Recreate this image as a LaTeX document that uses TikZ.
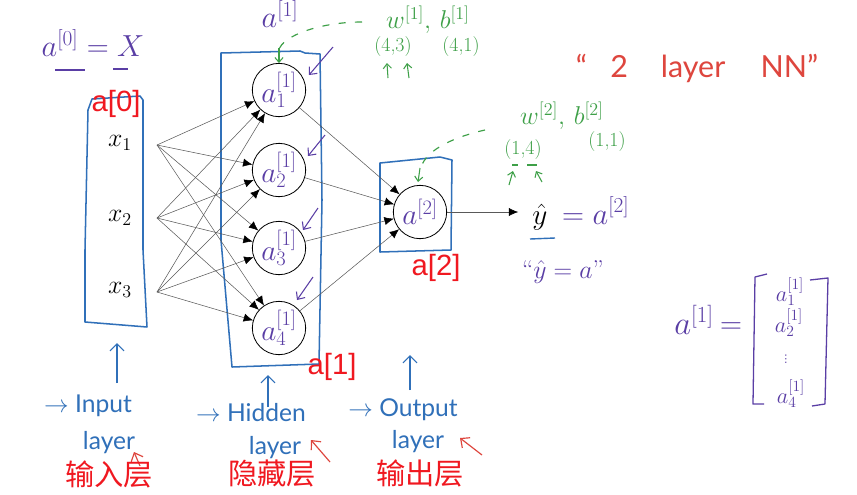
\RequirePackage{fix-cm}
\documentclass[tikz,border=0pt]{standalone}
\usepackage{fontspec}
\newfontfamily\hand{Lato}
\newfontfamily\redf{Liberation Sans}
\newfontfamily\cjk{Noto Sans CJK SC}
\newfontfamily\dejavu{DejaVu Sans}
\usetikzlibrary{arrows.meta}
\definecolor{hblue}{RGB}{48,112,185}
\definecolor{hpurple}{RGB}{90,62,165}
\definecolor{hgreen}{RGB}{62,160,72}
\definecolor{hred}{RGB}{240,24,32}
\definecolor{hredb}{RGB}{222,70,62}
\tikzset{
  hbox/.style={draw=hblue,line width=1.3pt,line join=round},
  neuron/.style={circle,draw=black,line width=0.7pt,minimum size=1.6cm,inner sep=0pt,
    text=hpurple,font=\fontsize{25}{29}\selectfont},
  conn/.style={draw=black!65,line width=0.45pt,-{Latex[length=8pt,width=7pt,color=black]}},
  xlbl/.style={font=\fontsize{22}{26}\selectfont,inner sep=0pt},
  redlbl/.style={text=hred,font=\redf\fontsize{25}{28}\selectfont,inner sep=0pt},
  cjklbl/.style={text=hred,font=\cjk\fontsize{25}{28}\selectfont,inner sep=0pt},
  bluetxt/.style={text=hblue,font=\hand\fontsize{21}{24}\selectfont,inner sep=0pt},
  purp/.style={text=hpurple,inner sep=0pt},
  grn/.style={text=hgreen,inner sep=0pt},
  parrow/.style={draw=hpurple,line width=0.9pt,-{Straight Barb[length=5pt,width=9pt]}},
  garrow/.style={draw=hgreen,line width=0.9pt,-{Straight Barb[length=4pt,width=7pt]}},
  barrow/.style={draw=hblue,line width=1pt,-{Straight Barb[length=6pt,width=12pt]}},
  rarrow/.style={draw=hredb,line width=1pt,-{Straight Barb[length=6pt,width=11pt]}},
  gdash/.style={draw=hgreen,line width=1pt,dash pattern=on 6pt off 8pt},
}
\begin{document}
\begin{tikzpicture}[x=0.03cm,y=-0.03cm]
\useasboundingbox[fill=white] (0,0) rectangle (857,494);

% hand-drawn layer boxes
\draw[hbox] (92,99) -- (140,96) -- (143,100) -- (143,250) -- (147,327) -- (85,322) -- (85,250) -- (88,110) -- cycle;
\draw[hbox] (221,53) -- (300,51) -- (305,53) -- (320,54) -- (322,200) -- (319,364) -- (232,367) -- (221,240) -- cycle;
\draw[hbox] (380,163) -- (440,157) -- (452,160) -- (451,250) -- (380,252) -- cycle;

% inputs
\node[xlbl] (x1) at (120,143) {$x_1$};
\node[xlbl] (x2) at (120,218) {$x_2$};
\node[xlbl] (x3) at (120,290) {$x_3$};
\coordinate (i1) at (157,145);
\coordinate (i2) at (157,218);
\coordinate (i3) at (157,292);

% neurons
\node[neuron] (h1) at (279,90) {$a^{[1]}_1$};
\node[neuron] (h2) at (279,170) {$a^{[1]}_2$};
\node[neuron] (h3) at (279,248) {$a^{[1]}_3$};
\node[neuron] (h4) at (279,328) {$a^{[1]}_4$};
\node[neuron] (o) at (420,212) {$a^{[2]}$};

\foreach \i in {1,2,3} \foreach \h in {1,2,3,4} \draw[conn] (i\i) -- (h\h);
\foreach \h in {1,2,3,4} \draw[conn] (h\h) -- (o);

% output
\node[xlbl,font=\fontsize{25}{28}\selectfont,anchor=base] (yh) at (540,224) {$\hat{y}$};
\node[purp,font=\fontsize{26}{30}\selectfont,anchor=base west] (eq) at (562,224) {$=a^{[2]}$};
\draw[conn,shorten >=12pt] (o) -- (o -| yh.west);
\draw[hblue,line width=1.2pt] (530,239) -- (555,238);
\node[purp,font=\fontsize{22}{26}\selectfont] (yq) at (563,272) {``$\hat{y}=a$''};

% red layer labels
\node[redlbl] (l0) at (116,104) {a[0]};
\node[redlbl] (l1) at (332,367) {a[1]};
\node[redlbl] (l2) at (436,268) {a[2]};

% a^[0] = X
\node[purp,font=\fontsize{26}{30}\selectfont] (a0) at (93,43) {$a^{[0]} = X$};
\draw[hpurple,line width=1.1pt] (55,70) -- (85,70);
\draw[hpurple,line width=1.1pt] (113,69) -- (128,69);

% top a^[1] and W1,b1
\node[purp,font=\fontsize{26}{30}\selectfont] (a1top) at (280,14) {$a^{[1]}$};
\node[grn,font=\fontsize{22}{26}\selectfont] (wb1) at (428,20) {$w^{[1]},\, b^{[1]}$};
\node[grn,font=\fontsize{17}{20}\selectfont] (d43) at (393,47) {(4,3)};
\node[grn,font=\fontsize{17}{20}\selectfont] (d41) at (461,47) {(4,1)};
\draw[garrow] (388,78) -- (387,63);
\draw[garrow] (409,78) -- (407,63);
\draw[gdash] (362,22) .. controls (320,22) and (282,36) .. (279,50);
\draw[garrow] (279,48) -- (279,63);

% W2,b2
\node[grn,font=\fontsize{22}{26}\selectfont] (wb2) at (562,116) {$w^{[2]},\, b^{[2]}$};
\node[grn,font=\fontsize{17}{20}\selectfont] (d14) at (523,150) {(1,4)};
\node[grn,font=\fontsize{17}{20}\selectfont] (d11) at (607,142) {(1,1)};
\draw[hgreen,line width=1pt] (512,165) -- (518,165) (527,165) -- (537,165);
\draw[garrow] (509,185) -- (513,171);
\draw[garrow] (542,182) -- (536,171);
\draw[gdash] (485,130) .. controls (450,138) and (422,152) .. (420,172);
\draw[garrow] (420,168) -- (418,182);

% purple arrows at hidden units
\draw[parrow] (333,47) -- (309,75);
\draw[parrow] (325,135) -- (308,156);
\draw[parrow] (318,208) -- (303,230);
\draw[parrow] (313,277) -- (297,300);

% "2 layer NN"
\node[text=hredb,font=\hand\fontsize{26}{30}\selectfont,inner sep=0pt] (nn) at (697,68)
  {\char"201C\hspace{20pt}2\hspace{28pt}layer\hspace{30pt}NN\char"201D};

% a^[1] vector
\node[purp,font=\fontsize{28}{32}\selectfont] (av) at (694,320) {$a^{[1]}$};
\node[purp,font=\fontsize{26}{30}\selectfont] (aeq) at (731,328) {$=$};
\draw[hpurple,line width=1.1pt,line join=round] (767,274) -- (755,277) -- (753,404) -- (764,404);
\draw[hpurple,line width=1.1pt,line join=round] (810,280) -- (828,278) -- (825,404) -- (812,406);
\node[purp,font=\fontsize{19}{22}\selectfont] (m1) at (790,292) {$a^{[1]}_1$};
\node[purp,font=\fontsize{19}{22}\selectfont] (m2) at (789,323) {$a^{[1]}_2$};
\node[purp,font=\dejavu\fontsize{9}{10}\selectfont] (m3) at (786,359) {⋮};
\node[purp,font=\fontsize{19}{22}\selectfont] (m4) at (791,394) {$a^{[1]}_4$};

% bottom annotations
\draw[barrow] (117,383) -- (117,343);
\draw[barrow] (268,407) -- (268,375);
\draw[barrow] (410,390) -- (410,355);
\node[bluetxt] (t1) at (88,406) {$\rightarrow$ Input};
\node[bluetxt] (t1b) at (109,443) {layer};
\node[bluetxt] (t2) at (251,413) {$\rightarrow$ Hidden};
\node[bluetxt] (t2b) at (275,448) {layer};
\node[bluetxt] (t3) at (403,410) {$\rightarrow$ Output};
\node[bluetxt] (t3b) at (418,442) {layer};
\draw[rarrow] (140,466) -- (134,452);
\draw[rarrow] (330,462) -- (311,440);
\draw[rarrow] (482,455) -- (460,438);
\node[cjklbl] (c1) at (109,474) {输入层};
\node[cjklbl] (c2) at (272,473) {隐藏层};
\node[cjklbl] (c3) at (420,473) {输出层};
\end{tikzpicture}
\end{document}
